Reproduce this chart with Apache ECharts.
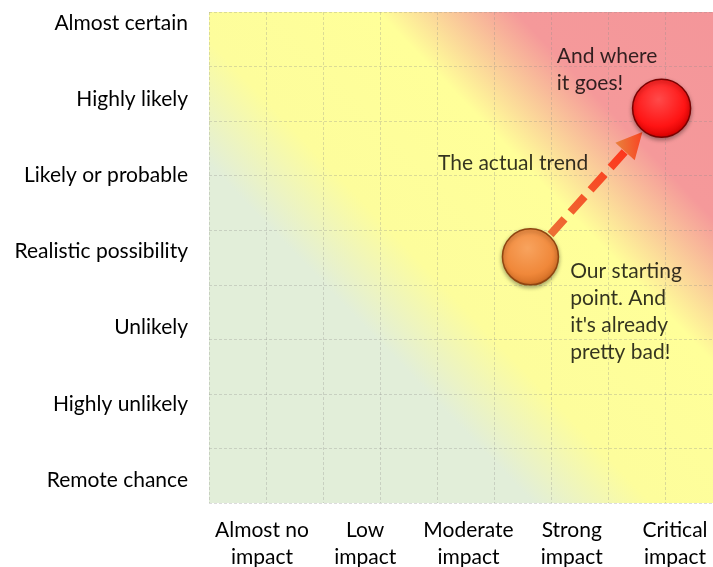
<!DOCTYPE html>
<html>
<head>
<meta charset="utf-8">
<script src="https://cdn.jsdelivr.net/npm/echarts@6/dist/echarts.min.js"></script>
<style>
  html, body { margin: 0; padding: 0; background: #fff; }
  #chart { width: 713px; height: 567px; }
</style>
</head>
<body>
<div id="chart"></div>
<script>
// axis labels
const impactLabels = ['Almost no\nimpact', 'Low\nimpact', 'Moderate\nimpact', 'Strong\nimpact', 'Critical\nimpact']
const likelihoodLabels = ['Remote chance', 'Highly unlikely', 'Unlikely', 'Realistic possibility',
  'Likely or probable', 'Highly likely', 'Almost certain']

// points in [impact, likelihood] units (0 = first label)
const startPoint = [2.6, 2.93]
const endPoint = [3.87, 4.88]
const trendArrowEnd = [3.60, 4.44]

// notes: [impact, likelihood, text]
const notes = [
  [2.85, 5.38, 'And where\nit goes!'],
  [1.70, 4.16, 'The actual trend'],
  [2.98, 2.21, 'Our starting\npoint. And\nit\'s already\npretty bad!']
]

const gridCells = 9
const font = 'Lato'
const textColor = '#000'

const chart = echarts.init(document.getElementById('chart'))

function ball(base, light, dark) {
  return new echarts.graphic.RadialGradient(0.45, 0.35, 0.65, [
    { offset: 0, color: light },
    { offset: 0.7, color: base },
    { offset: 1, color: dark }
  ])
}

chart.setOption({
  animation: false,
  grid: {
    left: 209,
    top: 12,
    right: -9,
    bottom: 64,
    outerBoundsMode: 'none',
    containLabel: false,
    show: true,
    borderWidth: 0,
    backgroundColor: new echarts.graphic.LinearGradient(0, 1, 1, 0, [
      { offset: 0, color: '#e2eed9' },
      { offset: 0.33, color: '#e2eed9' },
      { offset: 0.45, color: '#fdfd9c' },
      { offset: 0.65, color: '#ffff99' },
      { offset: 0.79, color: '#f5999a' },
      { offset: 1, color: '#f4969a' }
    ])
  },
  xAxis: [
    {
      type: 'value', min: 0, max: gridCells, interval: 1, position: 'top',
      axisLine: { show: false }, axisTick: { show: false }, axisLabel: { show: false },
      splitLine: { show: true, lineStyle: { color: 'rgba(140,140,140,0.3)', type: [3, 2], width: 1 } }
    },
    {
      type: 'value', min: -0.513, max: 4.455, position: 'bottom',
      axisLine: { show: false }, axisTick: { show: false }, splitLine: { show: false },
      axisLabel: {
        customValues: impactLabels.map((_, i) => i),
        formatter: v => impactLabels[Math.round(v)],
        fontFamily: font, fontSize: 21, lineHeight: 27, color: textColor, margin: 14
      }
    }
  ],
  yAxis: [
    {
      type: 'value', min: 0, max: gridCells, interval: 1, position: 'right',
      axisLine: { show: false }, axisTick: { show: false }, axisLabel: { show: false },
      splitLine: { show: true, lineStyle: { color: 'rgba(140,140,140,0.3)', type: [3, 2], width: 1 } }
    },
    {
      type: 'value', min: -0.302, max: 6.144, position: 'left',
      axisLine: { show: false }, axisTick: { show: false }, splitLine: { show: false },
      axisLabel: {
        customValues: likelihoodLabels.map((_, i) => i),
        formatter: v => likelihoodLabels[Math.round(v)],
        fontFamily: font, fontSize: 21, color: textColor, margin: 21
      }
    }
  ],
  series: [
    {
      type: 'lines',
      coordinateSystem: 'cartesian2d',
      xAxisIndex: 1,
      yAxisIndex: 1,
      z: 2,
      symbol: ['none', 'triangle'],
      symbolSize: 26,
      lineStyle: {
        width: 8,
        type: [21, 9],
        opacity: 1,
        color: new echarts.graphic.LinearGradient(0, 1, 1, 0, [
          { offset: 0, color: '#e8823c' },
          { offset: 1, color: '#ff2e1a' }
        ])
      },
      data: [{ coords: [startPoint, trendArrowEnd] }]
    },
    {
      type: 'scatter',
      xAxisIndex: 1,
      yAxisIndex: 1,
      z: 3,
      data: [
        {
          value: startPoint, symbolSize: 56,
          itemStyle: {
            opacity: 1,
            color: ball('#f0883a', '#f8a35e', '#d26d24'),
            borderColor: '#8f4510', borderWidth: 1.5,
            shadowBlur: 4, shadowOffsetY: 2, shadowColor: 'rgba(0,0,0,0.35)'
          }
        },
        {
          value: endPoint, symbolSize: 58,
          itemStyle: {
            opacity: 1,
            color: ball('#ff1414', '#ff4a4a', '#d80000'),
            borderColor: '#7a0000', borderWidth: 1.5,
            shadowBlur: 4, shadowOffsetY: 2, shadowColor: 'rgba(0,0,0,0.35)'
          }
        }
      ]
    },
    {
      type: 'scatter',
      xAxisIndex: 1,
      yAxisIndex: 1,
      z: 4,
      symbolSize: 1,
      itemStyle: { color: 'transparent' },
      silent: true,
      label: {
        show: true,
        position: 'right',
        distance: 0,
        formatter: p => p.data[2],
        fontFamily: font, fontSize: 21, lineHeight: 27, color: textColor
      },
      data: notes
    }
  ]
})
</script>
</body>
</html>
